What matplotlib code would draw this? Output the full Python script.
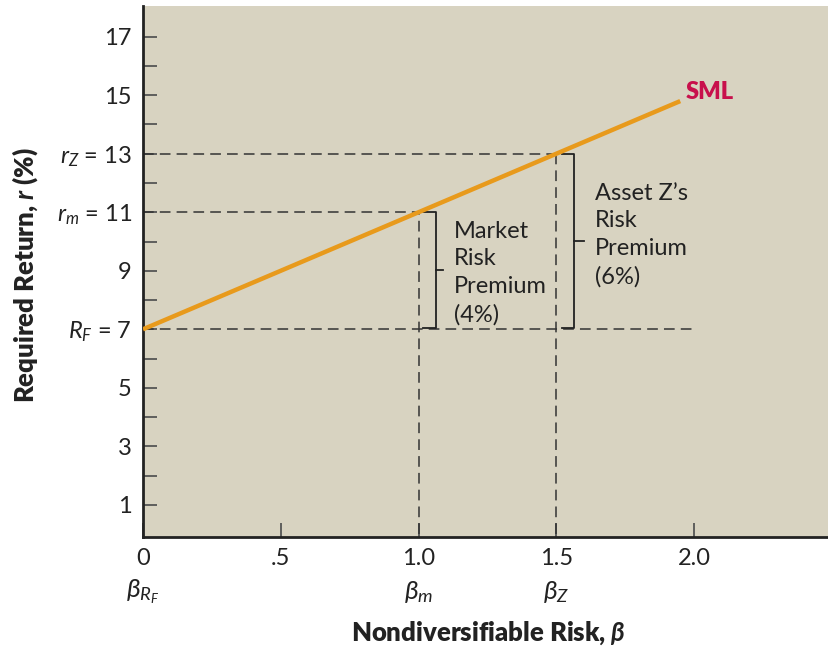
import matplotlib
matplotlib.use("Agg")
import matplotlib.pyplot as plt
import matplotlib.transforms as mtransforms

plt.rcParams['font.family'] = ['Lato', 'DejaVu Sans']
plt.rcParams['mathtext.fontset'] = 'custom'
plt.rcParams['mathtext.rm'] = 'Lato'
plt.rcParams['mathtext.it'] = 'Lato:italic'
plt.rcParams['mathtext.bf'] = 'Lato:bold'
plt.rcParams['mathtext.bfit'] = 'Lato:bold:italic'

# data
sml_beta = [0.0, 1.95]
sml_return = [7.0, 14.8]
rf = 7
rm = 11
rz = 13
beta_m = 1.0
beta_z = 1.5
rf_line_end = 2.0

ytick_vals = [1, 3, 5, 7, 9, 11, 13, 15, 17]
ytick_labels = ['1', '3', '5', r'$R_F$ = 7', '9', r'$r_m$ = 11', r'$r_Z$ = 13', '15', '17']
yminor_vals = [2, 4, 6, 8, 10, 12, 14, 16]
xtick_vals = [0, 0.5, 1.0, 1.5, 2.0]
xtick_labels = ['0', '.5', '1.0', '1.5', '2.0']
beta_names = [(0.0, r'$\beta_{R_F}$'), (1.0, r'$\beta_m$'), (1.5, r'$\beta_Z$')]

bg = '#d8d3c1'
orange = '#e89a1c'
crimson = '#c8104c'
dash_col = '#333333'

fig = plt.figure(figsize=(8.29, 6.48), dpi=100)
ax = fig.add_axes([143/829, 1-537/648, (829-143)/829, (537-6)/648])
ax.set_facecolor(bg)
ax.set_xlim(0, 2.49)
ax.set_ylim(-0.1, 18.05)

for s in ['top', 'right']:
    ax.spines[s].set_visible(False)
for s in ['left', 'bottom']:
    ax.spines[s].set_linewidth(2)
    ax.spines[s].set_color('#222222')

dash = dict(color=dash_col, lw=1.1, dashes=(7, 4))
ax.plot([0, beta_z], [rz, rz], **dash)
ax.plot([0, beta_m], [rm, rm], **dash)
ax.plot([0, rf_line_end], [rf, rf], **dash)
ax.plot([beta_m, beta_m], [0, rm], **dash)
ax.plot([beta_z, beta_z], [0, rz], **dash)

ax.plot(sml_beta, sml_return, color=orange, lw=3.2, solid_capstyle='butt', zorder=5)
ax.text(1.97, 15.1, 'SML', color=crimson, fontsize=17, fontweight='heavy', va='center')

# brackets
def bracket(x0, x1, xt, ytop, ybot):
    ax.plot([x0, x1, x1, x0], [ytop, ytop, ybot, ybot], color='#222222', lw=1.3)
    ym = (ytop + ybot) / 2
    ax.plot([x1, xt], [ym, ym], color='#222222', lw=1.3)

bracket(1.015, 1.062, 1.09, rm, rf + 0.05)
bracket(1.52, 1.565, 1.60, rz, rf + 0.05)

ax.text(1.13, 10.7, 'Market\nRisk\nPremium\n(4%)', fontsize=17, va='top', ha='left',
        linespacing=1.38, color='#222222')
ax.text(1.64, 12.0, 'Asset Z\u2019s\nRisk\nPremium\n(6%)', fontsize=17, va='top', ha='left',
        linespacing=1.38, color='#222222')

ax.set_yticks(ytick_vals)
ax.set_yticklabels(ytick_labels)
ax.set_yticks(yminor_vals, minor=True)
ax.set_xticks(xtick_vals)
ax.set_xticklabels(xtick_labels)
ax.tick_params(axis='both', which='both', direction='in', length=10, width=1.3,
               color='#555555', labelsize=17, labelcolor='#222222')
ax.tick_params(axis='y', pad=8)
ax.tick_params(axis='x', pad=8)

trans = mtransforms.blended_transform_factory(ax.transData, fig.transFigure)
for bx, name in beta_names:
    ax.text(bx, 1-592/648, name, transform=trans, fontsize=19, ha='center', va='center',
            color='#222222')

fig.text(488/829, 1-633/648, r'Nondiversifiable Risk, $\boldsymbol{\beta}$', fontsize=18.5,
         fontweight='heavy', ha='center', va='center', color='#222222')
fig.text(25/829, 1-275/648, r'Required Return, $\mathbfit{r}$ (%)', fontsize=18.5,
         fontweight='heavy', ha='center', va='center', rotation=90, color='#222222')

fig.savefig('out.png', dpi=100)
